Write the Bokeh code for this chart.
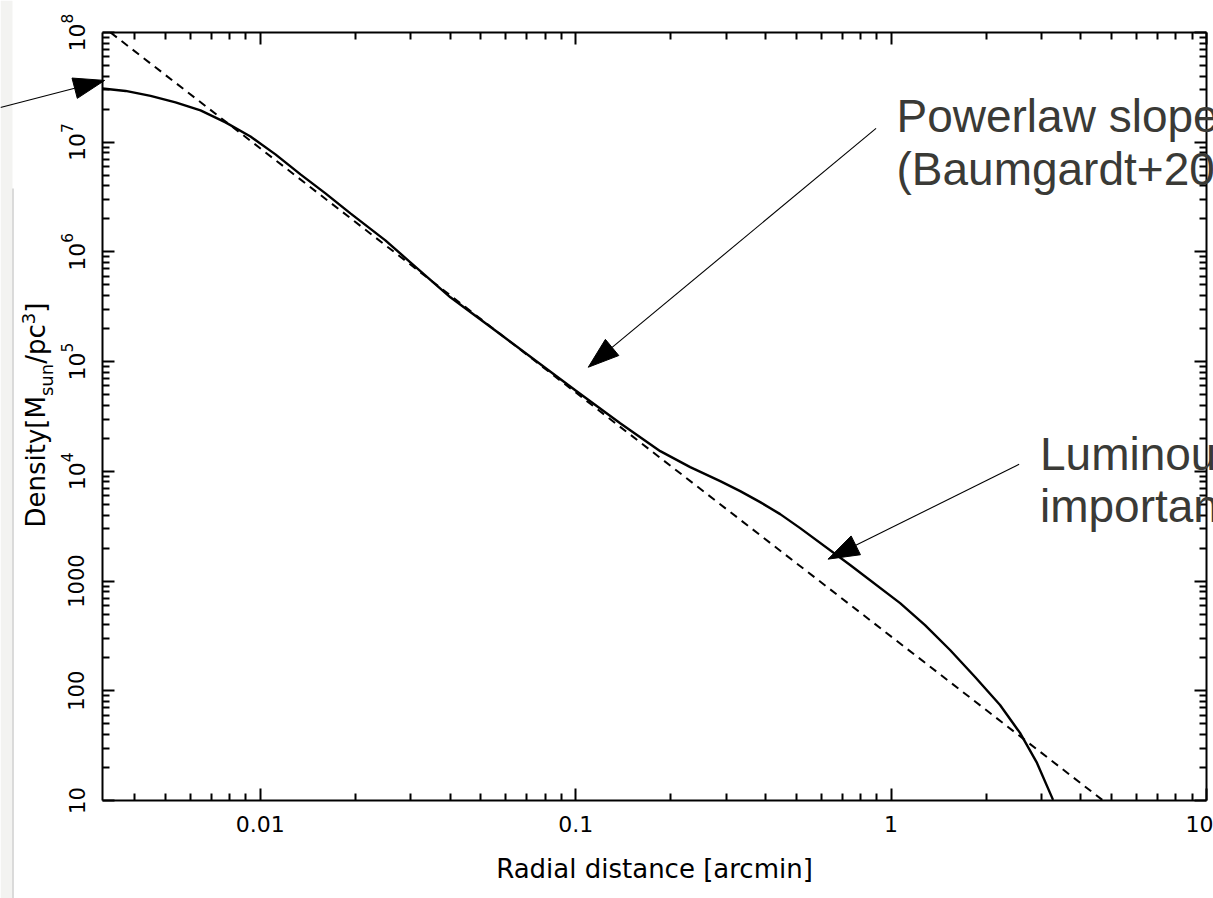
import math
from bokeh.plotting import figure
from bokeh.models import (Label, LogAxis, FixedTicker, CustomJSTickFormatter,
                          LogTickFormatter, PolyAnnotation)
from bokeh.embed import file_html
from bokeh.resources import INLINE

# Density profile of the cluster model (solid curve)
radius_arcmin = [0.00316, 0.003741, 0.004488, 0.005386, 0.006463, 0.007757, 0.009309,
                 0.01117, 0.01341, 0.01609, 0.01931, 0.02492, 0.02991, 0.04006, 0.05769,
                 0.0997, 0.1384, 0.1854, 0.2307, 0.2872, 0.3323, 0.3845, 0.4449, 0.5148,
                 0.7415, 1.068, 1.281, 1.538, 1.846, 2.215, 2.563, 2.901, 3.262]
density = [3.090e7, 2.933e7, 2.641e7, 2.305e7, 1.948e7, 1.515e7, 1.129e7,
           7.744e6, 5.089e6, 3.418e6, 2.246e6, 1.275e6, 8.04e5, 3.859e5, 1.776e5,
           5.49e4, 2.748e4, 1.528e4, 1.092e4, 8140, 6600, 5242, 4076, 3038,
           1399, 630, 397.5, 235.3, 133.6, 74.2, 41.3, 22.0, 10.13]

# Power-law reference (dashed), straight on log-log axes
powerlaw_r = [0.00335, 4.7]
powerlaw_rho = [1e8, 10]

x_ticks = [0.01, 0.1, 1.0, 10.0]
x_tick_labels = ["0.01", "0.1", "1", "10"]
y_plain_ticks = [10.0, 100.0, 1000.0]
y_plain_labels = ["10", "100", "1000"]
y_power_ticks = [1e4, 1e5, 1e6, 1e7, 1e8]      # written as 10 with a raised exponent

# axis extent
x_min, x_max = 0.00316, 10.0
y_min, y_max = 10.0, 1e8

# where the axis box sits on the canvas (pixels)
W, H = 1213, 898
FL, FR, FT, FB = 102, 1206, 32, 800

TICK_FONT = "DejaVu Sans"
NOTE_FONT = "Liberation Sans"
NOTE_COLOR = "#3a3a36"
BASELINE_SHIFT = 0.35      # Bokeh places "alphabetic" text this many em lower


def px_to_x(px):
    f = (px - FL) / (FR - FL)
    return 10 ** (math.log10(x_min) + f * (math.log10(x_max) - math.log10(x_min)))


def py_to_y(py):
    f = (FB - py) / (FB - FT)
    return 10 ** (math.log10(y_min) + f * (math.log10(y_max) - math.log10(y_min)))


def x_to_px(x):
    return FL + (math.log10(x) - math.log10(x_min)) / (math.log10(x_max) - math.log10(x_min)) * (FR - FL)


def y_to_py(y):
    return FB - (math.log10(y) - math.log10(y_min)) / (math.log10(y_max) - math.log10(y_min)) * (FB - FT)


def minor_ticks(lo, hi):
    out = []
    for k in range(int(math.floor(math.log10(lo))), int(math.ceil(math.log10(hi))) + 1):
        for m in range(2, 10):
            v = m * 10.0 ** k
            if lo <= v <= hi:
                out.append(v)
    return out


def plain_formatter(vals, texts):
    return CustomJSTickFormatter(args=dict(vals=vals, texts=texts), code="""
        let best = 0, err = Infinity;
        for (let i = 0; i < vals.length; i++) {
            const e = Math.abs(Math.log10(vals[i]) - Math.log10(tick));
            if (e < err) { err = e; best = i; }
        }
        return texts[best];
    """)


all_y_ticks = y_plain_ticks + y_power_ticks
x_ticker = FixedTicker(ticks=x_ticks, minor_ticks=minor_ticks(x_min, x_max))
y_ticker = FixedTicker(ticks=all_y_ticks, minor_ticks=minor_ticks(y_min, y_max))

# The frame covers the whole canvas; the axes are pinned to the box edges so
# annotations may reach into the margins.
p = figure(x_axis_type="log", y_axis_type="log",
           x_range=(px_to_x(0), px_to_x(W)), y_range=(py_to_y(H), py_to_y(0)),
           width=W, height=H,
           min_border_left=0, min_border_right=0, min_border_top=0, min_border_bottom=0,
           output_backend="svg", toolbar_location=None)
p.grid.visible = False
p.outline_line_color = None
p.background_fill_color = "white"
p.border_fill_color = "white"


def style_axis(ax, ticker, formatter=None, size="22px"):
    ax.ticker = ticker
    ax.axis_line_color = "black"
    ax.axis_line_width = 2
    ax.major_tick_line_color = "black"
    ax.major_tick_line_width = 2
    ax.minor_tick_line_color = "black"
    ax.minor_tick_line_width = 2
    ax.major_tick_in = 12
    ax.major_tick_out = 0
    ax.minor_tick_in = 7
    ax.minor_tick_out = 0
    if formatter is None:
        ax.major_label_text_alpha = 0
        ax.major_label_text_font_size = "1px"
        ax.major_label_standoff = 0
    else:
        ax.formatter = formatter
        ax.major_label_text_font = TICK_FONT
        ax.major_label_text_font_size = size
        ax.major_label_text_color = "black"


xa = p.xaxis[0]
style_axis(xa, x_ticker, plain_formatter(x_ticks, x_tick_labels))
xa.fixed_location = y_min
xa.bounds = (x_min, x_max)
xa.major_label_standoff = 15
xa.axis_label = "Radial distance [arcmin]"
xa.axis_label_text_font = TICK_FONT
xa.axis_label_text_font_size = "26px"
xa.axis_label_text_font_style = "normal"
xa.axis_label_text_color = "black"
xa.axis_label_standoff = 19

# left axis: plain labels for 10..1000, all tick marks
ya = p.yaxis[0]
style_axis(ya, FixedTicker(ticks=y_plain_ticks, minor_ticks=minor_ticks(y_min, y_max)),
           plain_formatter(y_plain_ticks, y_plain_labels), "21px")
ya.fixed_location = x_min
ya.bounds = (y_min, y_max)
ya.major_label_orientation = "vertical"
ya.major_label_standoff = 18

# second left axis on the same edge: powers of ten with raised exponents
ya_pow = LogAxis()
style_axis(ya_pow, FixedTicker(ticks=y_power_ticks, minor_ticks=[]),
           LogTickFormatter(min_exponent=3), "22px")
ya_pow.fixed_location = x_min
ya_pow.bounds = (y_min, y_max)
ya_pow.axis_line_color = None
ya_pow.major_label_orientation = "vertical"
ya_pow.major_label_standoff = 18
p.add_layout(ya_pow, "left")

top = LogAxis()
style_axis(top, x_ticker)
top.fixed_location = y_max
top.bounds = (x_min, x_max)
p.add_layout(top, "above")
right = LogAxis()
style_axis(right, y_ticker)
right.fixed_location = x_max
right.bounds = (y_min, y_max)
p.add_layout(right, "right")

# left margin of the slide: light strip and its edge line
p.add_layout(PolyAnnotation(xs=[px_to_x(0), px_to_x(12), px_to_x(12), px_to_x(0)],
                            ys=[py_to_y(0), py_to_y(0), py_to_y(H), py_to_y(H)],
                            fill_color="#f3f3f1", fill_alpha=1, line_alpha=0, level="underlay"))
p.add_layout(PolyAnnotation(xs=[px_to_x(12.5), px_to_x(12.5)], ys=[py_to_y(188), py_to_y(H)],
                            fill_alpha=0, line_color="#cfcfcf", line_alpha=1, line_width=1.5,
                            level="underlay"))

# curves
p.line(powerlaw_r, powerlaw_rho, line_color="black", line_width=2, line_dash="8 6")
p.line(radius_arcmin, density, line_color="black", line_width=2.4)


def rotated_text(txt, px_base, py_start, size):
    """Text reading bottom-to-top; px_base is the baseline column, py_start the first glyph."""
    p.add_layout(Label(x=px_to_x(px_base - BASELINE_SHIFT * size), y=py_to_y(py_start),
                       text=txt, angle=math.pi / 2, text_font=TICK_FONT,
                       text_font_size=f"{size}px", text_color="black",
                       text_align="left", text_baseline="alphabetic"))


# y-axis title built from pieces so the subscript/superscript stay real text
pieces = [("Density[M", 26, 0), ("sun", 18, 7), ("/pc", 26, 0), ("3", 18, -11), ("]", 26, 0)]
em = {"Density[M": 5.055, "sun": 1.789, "/pc": 1.522, "3": 0.636, "]": 0.390}
py = 527
for txt, size, shift in pieces:
    rotated_text(txt, 45 + shift, py, size)
    py -= em[txt] * size

# annotations (left edges in data units, baseline pixel rows)
notes = [
    ("Powerlaw slope", 1.04, 132),
    ("(Baumgardt+2005)", 1.04, 185),
    ("Luminous mass", 2.965, 470),
    ("important", 2.965, 522),
]
for txt, x, base in notes:
    p.add_layout(Label(x=x, y=py_to_y(base - BASELINE_SHIFT * 46), text=txt,
                       text_font=NOTE_FONT, text_font_size="46px",
                       text_color=NOTE_COLOR, text_align="left", text_baseline="alphabetic"))

# arrows: (start, tip) in data units; head drawn as a filled triangle
arrows = [
    ((0.0015, 2.07e7), (0.00321, 3.66e7)),
    ((0.896, 1.337e7), (0.1096, 8.89e4)),
    ((2.546, 1.16e4), (0.631, 1585.0)),
]
HEAD_LEN, HEAD_W = 31, 21
for (xs, ys), (xe, ye) in arrows:
    x0, y0, x1, y1 = x_to_px(xs), y_to_py(ys), x_to_px(xe), y_to_py(ye)
    d = math.hypot(x1 - x0, y1 - y0)
    ux, uy = (x1 - x0) / d, (y1 - y0) / d
    bx, by = x1 - ux * HEAD_LEN, y1 - uy * HEAD_LEN
    nx, ny = -uy * HEAD_W / 2, ux * HEAD_W / 2
    p.add_layout(PolyAnnotation(xs=[xs, px_to_x(bx)], ys=[ys, py_to_y(by)],
                                fill_alpha=0, line_color="black", line_alpha=1, line_width=1.1))
    p.add_layout(PolyAnnotation(xs=[xe, px_to_x(bx + nx), px_to_x(bx - nx)],
                                ys=[ye, py_to_y(by + ny), py_to_y(by - ny)],
                                fill_color="black", fill_alpha=1,
                                line_color="black", line_alpha=1, line_width=1))

open("out.html", "w").write(file_html(p, INLINE))
